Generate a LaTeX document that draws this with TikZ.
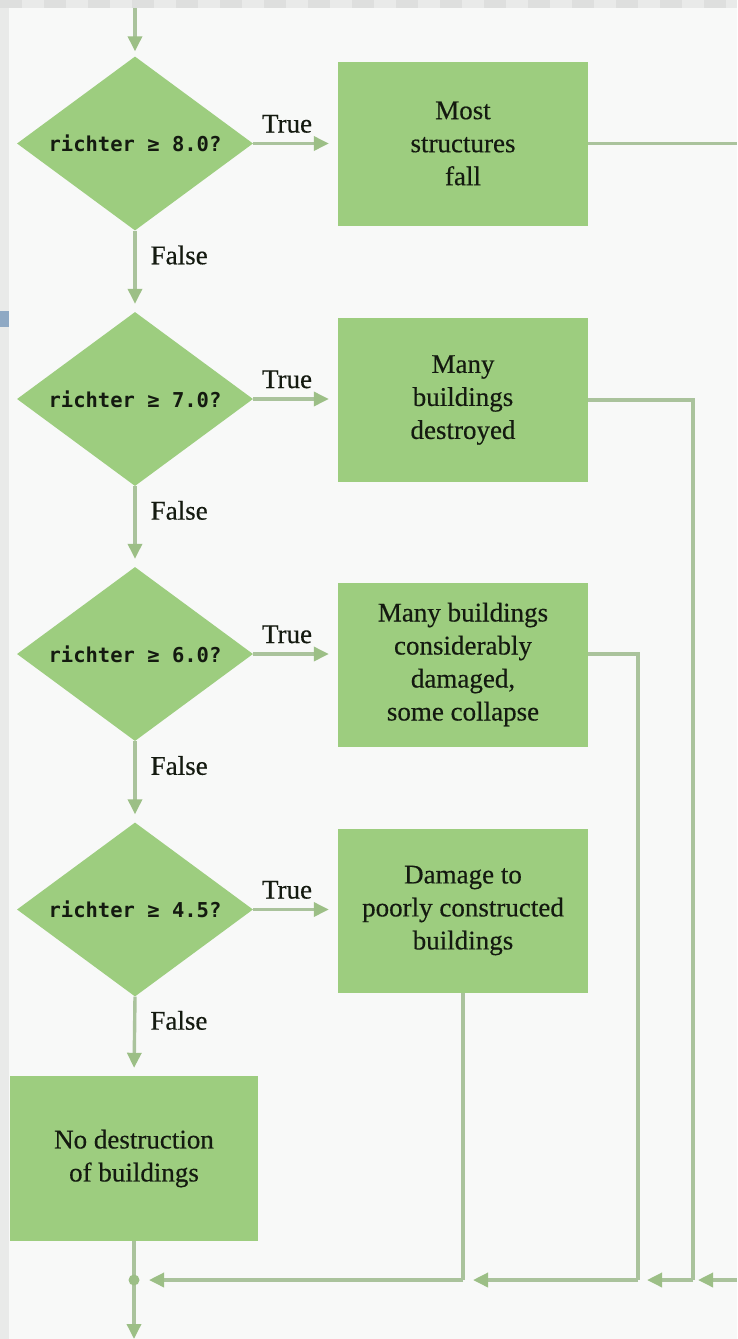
\documentclass[tikz,border=0pt]{standalone}
\usepackage{fontspec}
\setmainfont{Liberation Serif}[FakeBold=0.4]
\newfontfamily\codefont{DejaVu Sans Mono}
\usetikzlibrary{shapes.geometric,arrows.meta}

\definecolor{boxgreen}{HTML}{9DCD7F}
\definecolor{wire}{HTML}{AAC39C}
\definecolor{tipgreen}{HTML}{9CBF86}
\definecolor{paper}{HTML}{F8F9F8}
\definecolor{rim}{HTML}{E9EAE9}
\definecolor{rimdash}{HTML}{DEDFDE}
\definecolor{tab}{HTML}{8FA9C4}
\definecolor{ink}{HTML}{141A10}

\tikzset{
  decision/.style={diamond, fill=boxgreen, draw=none, inner sep=0pt, aspect=1.356,
    minimum width=236pt, minimum height=174pt, text=ink,
    font=\codefont\bfseries\fontsize{20.5}{24}\selectfont},
  action/.style={rectangle, fill=boxgreen, draw=none, minimum width=250pt,
    minimum height=164pt, inner sep=0pt, align=center, text=ink,
    font=\fontsize{27}{33}\selectfont},
  wireline/.style={draw=wire, line width=3.4pt},
  flow/.style={wireline, -{Triangle[length=15pt,width=14pt,color=tipgreen]}},
  branchlabel/.style={inner sep=0pt, text=ink, font=\fontsize{27}{33}\selectfont}
}

\begin{document}
\begin{tikzpicture}[x=1pt,y=-1pt]
  \useasboundingbox (0,0) rectangle (737,1339);

  % page background with a grey rim on the top and left
  \fill[rim] (0,0) rectangle (737,1339);
  \draw[rimdash, line width=8pt, dash pattern=on 22pt off 22pt] (0,4) -- (737,4);
  \fill[paper] (9,8) rectangle (737,1339);
  \fill[tab] (0,311) rectangle (9,327);

  % decisions
  \node[decision] (d1) at (135,143.5) {richter ≥ 8.0?};
  \node[decision] (d2) at (135,399)   {richter ≥ 7.0?};
  \node[decision] (d3) at (135,654)   {richter ≥ 6.0?};
  \node[decision] (d4) at (135,909.5) {richter ≥ 4.5?};

  % outcomes
  \node[action] (b1) at (463,143.5) {Most\\structures\\fall};
  \node[action] (b2) at (463,400)   {Many\\buildings\\destroyed};
  \node[action] (b3) at (463,664.5) {Many buildings\\considerably\\damaged,\\some collapse};
  \node[action] (b4) at (463,910.5) {Damage to\\poorly constructed\\buildings};
  \node[action, minimum width=248pt, minimum height=165pt] (b5) at (134,1158.5)
    {No destruction\\of buildings};

  % entry, exits and merge points
  \coordinate (entry) at (135,8);
  \coordinate (out1)  at (737,143.5);
  \coordinate (back1) at (737,1280);
  \coordinate (j1) at (693,1280);
  \coordinate (j2) at (638,1280);
  \coordinate (j3) at (463,1280);
  \coordinate (m)  at (134,1280);
  \coordinate (exit) at (134,1339);

  % main chain
  \draw[flow, shorten >=5pt] (entry) -- (d1.north);
  \draw[flow, shorten >=8pt] (d1.south) -- node[branchlabel, right=14pt, pos=0.3] {False} (d2.north);
  \draw[flow, shorten >=8pt] (d2.south) -- node[branchlabel, right=14pt, pos=0.3] {False} (d3.north);
  \draw[flow, shorten >=8pt] (d3.south) -- node[branchlabel, right=14pt, pos=0.3] {False} (d4.north);
  \draw[flow, shorten >=8pt] (d4.south) -- node[branchlabel, right=14pt, pos=0.3] {False} (b5.north);

  % true branches
  \draw[flow, shorten >=9pt] (d1.east) -- node[branchlabel, above=9pt, pos=0.4] {True} (b1.west |- d1.east);
  \draw[flow, shorten >=9pt] (d2.east) -- node[branchlabel, above=9pt, pos=0.4] {True} (b2.west |- d2.east);
  \draw[flow, shorten >=9pt] (d3.east) -- node[branchlabel, above=9pt, pos=0.4] {True} (b3.west |- d3.east);
  \draw[flow, shorten >=9pt] (d4.east) -- node[branchlabel, above=9pt, pos=0.4] {True} (b4.west |- d4.east);

  % returns to the common exit
  \draw[wireline] (b1.east) -- (out1);
  \draw[wireline] (b2.east) -| (j1);
  \draw[wireline] (b3.east |- d3.east) -| (j2);
  \draw[wireline] (b4.south) -- (j3);
  \draw[flow, shorten >=5pt]  (back1) -- (j1);
  \draw[flow, shorten >=9pt]  (j1) -- (j2);
  \draw[flow, shorten >=10pt] (j2) -- (j3);
  \draw[flow, shorten >=15pt] (j3) -- (m);
  \draw[wireline] (b5.south) -- (m);
  \draw[flow] (m) -- (exit);
  \fill[tipgreen] (m) circle (5.5pt);
\end{tikzpicture}
\end{document}
